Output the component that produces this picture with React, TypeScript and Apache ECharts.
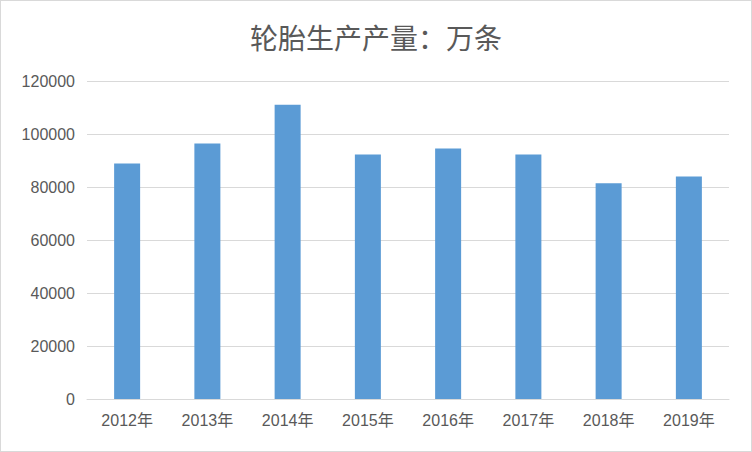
import React, { useEffect, useRef } from 'react';
import * as echarts from 'echarts';

const years = ['2012年', '2013年', '2014年', '2015年', '2016年', '2017年', '2018年', '2019年'];
const output = [88900, 96400, 111000, 92300, 94500, 92300, 81400, 84000];

const TireChart: React.FC = () => {
  const chartRef = useRef<HTMLDivElement | null>(null);

  useEffect(() => {
    document.body.style.margin = '0';
    const chart = echarts.init(chartRef.current!, undefined, { renderer: 'svg' });

    const option: echarts.EChartsOption = {
      animation: false,
      title: {
        text: '轮胎生产产量：万条',
        left: 'center',
        top: 17,
        textStyle: {
          fontFamily: 'Noto Sans CJK SC',
          fontSize: 28,
          fontWeight: 'normal',
          color: '#595959',
        },
      },
      grid: {
        left: 86,
        right: 22,
        top: 80,
        bottom: 52,
      },
      xAxis: {
        type: 'category',
        data: years,
        axisLine: { lineStyle: { color: '#d9d9d9', width: 1 } },
        axisTick: { show: false },
        axisLabel: {
          margin: 13,
          fontSize: 16,
          color: '#595959',
          fontFamily: 'Liberation Sans, Noto Sans CJK SC',
        },
      },
      yAxis: {
        type: 'value',
        min: 0,
        max: 120000,
        interval: 20000,
        axisLine: { show: false },
        axisTick: { show: false },
        splitLine: { lineStyle: { color: '#d9d9d9', width: 1 } },
        axisLabel: {
          margin: 12,
          fontSize: 16,
          color: '#595959',
          fontFamily: 'Liberation Sans',
          formatter: (v: number) => String(v),
        },
      },
      series: [
        {
          type: 'bar',
          data: output,
          barWidth: 26,
          itemStyle: { color: '#5b9bd5' },
        },
      ],
    };

    chart.setOption(option);

    return () => {
      chart.dispose();
    };
  }, []);

  return (
    <div
      ref={chartRef}
      style={{
        width: '752px',
        height: '452px',
        boxSizing: 'border-box',
        border: '1px solid #d9d9d9',
        background: '#fff',
      }}
    />
  );
};

export default function App() {
  return <TireChart />;
}
